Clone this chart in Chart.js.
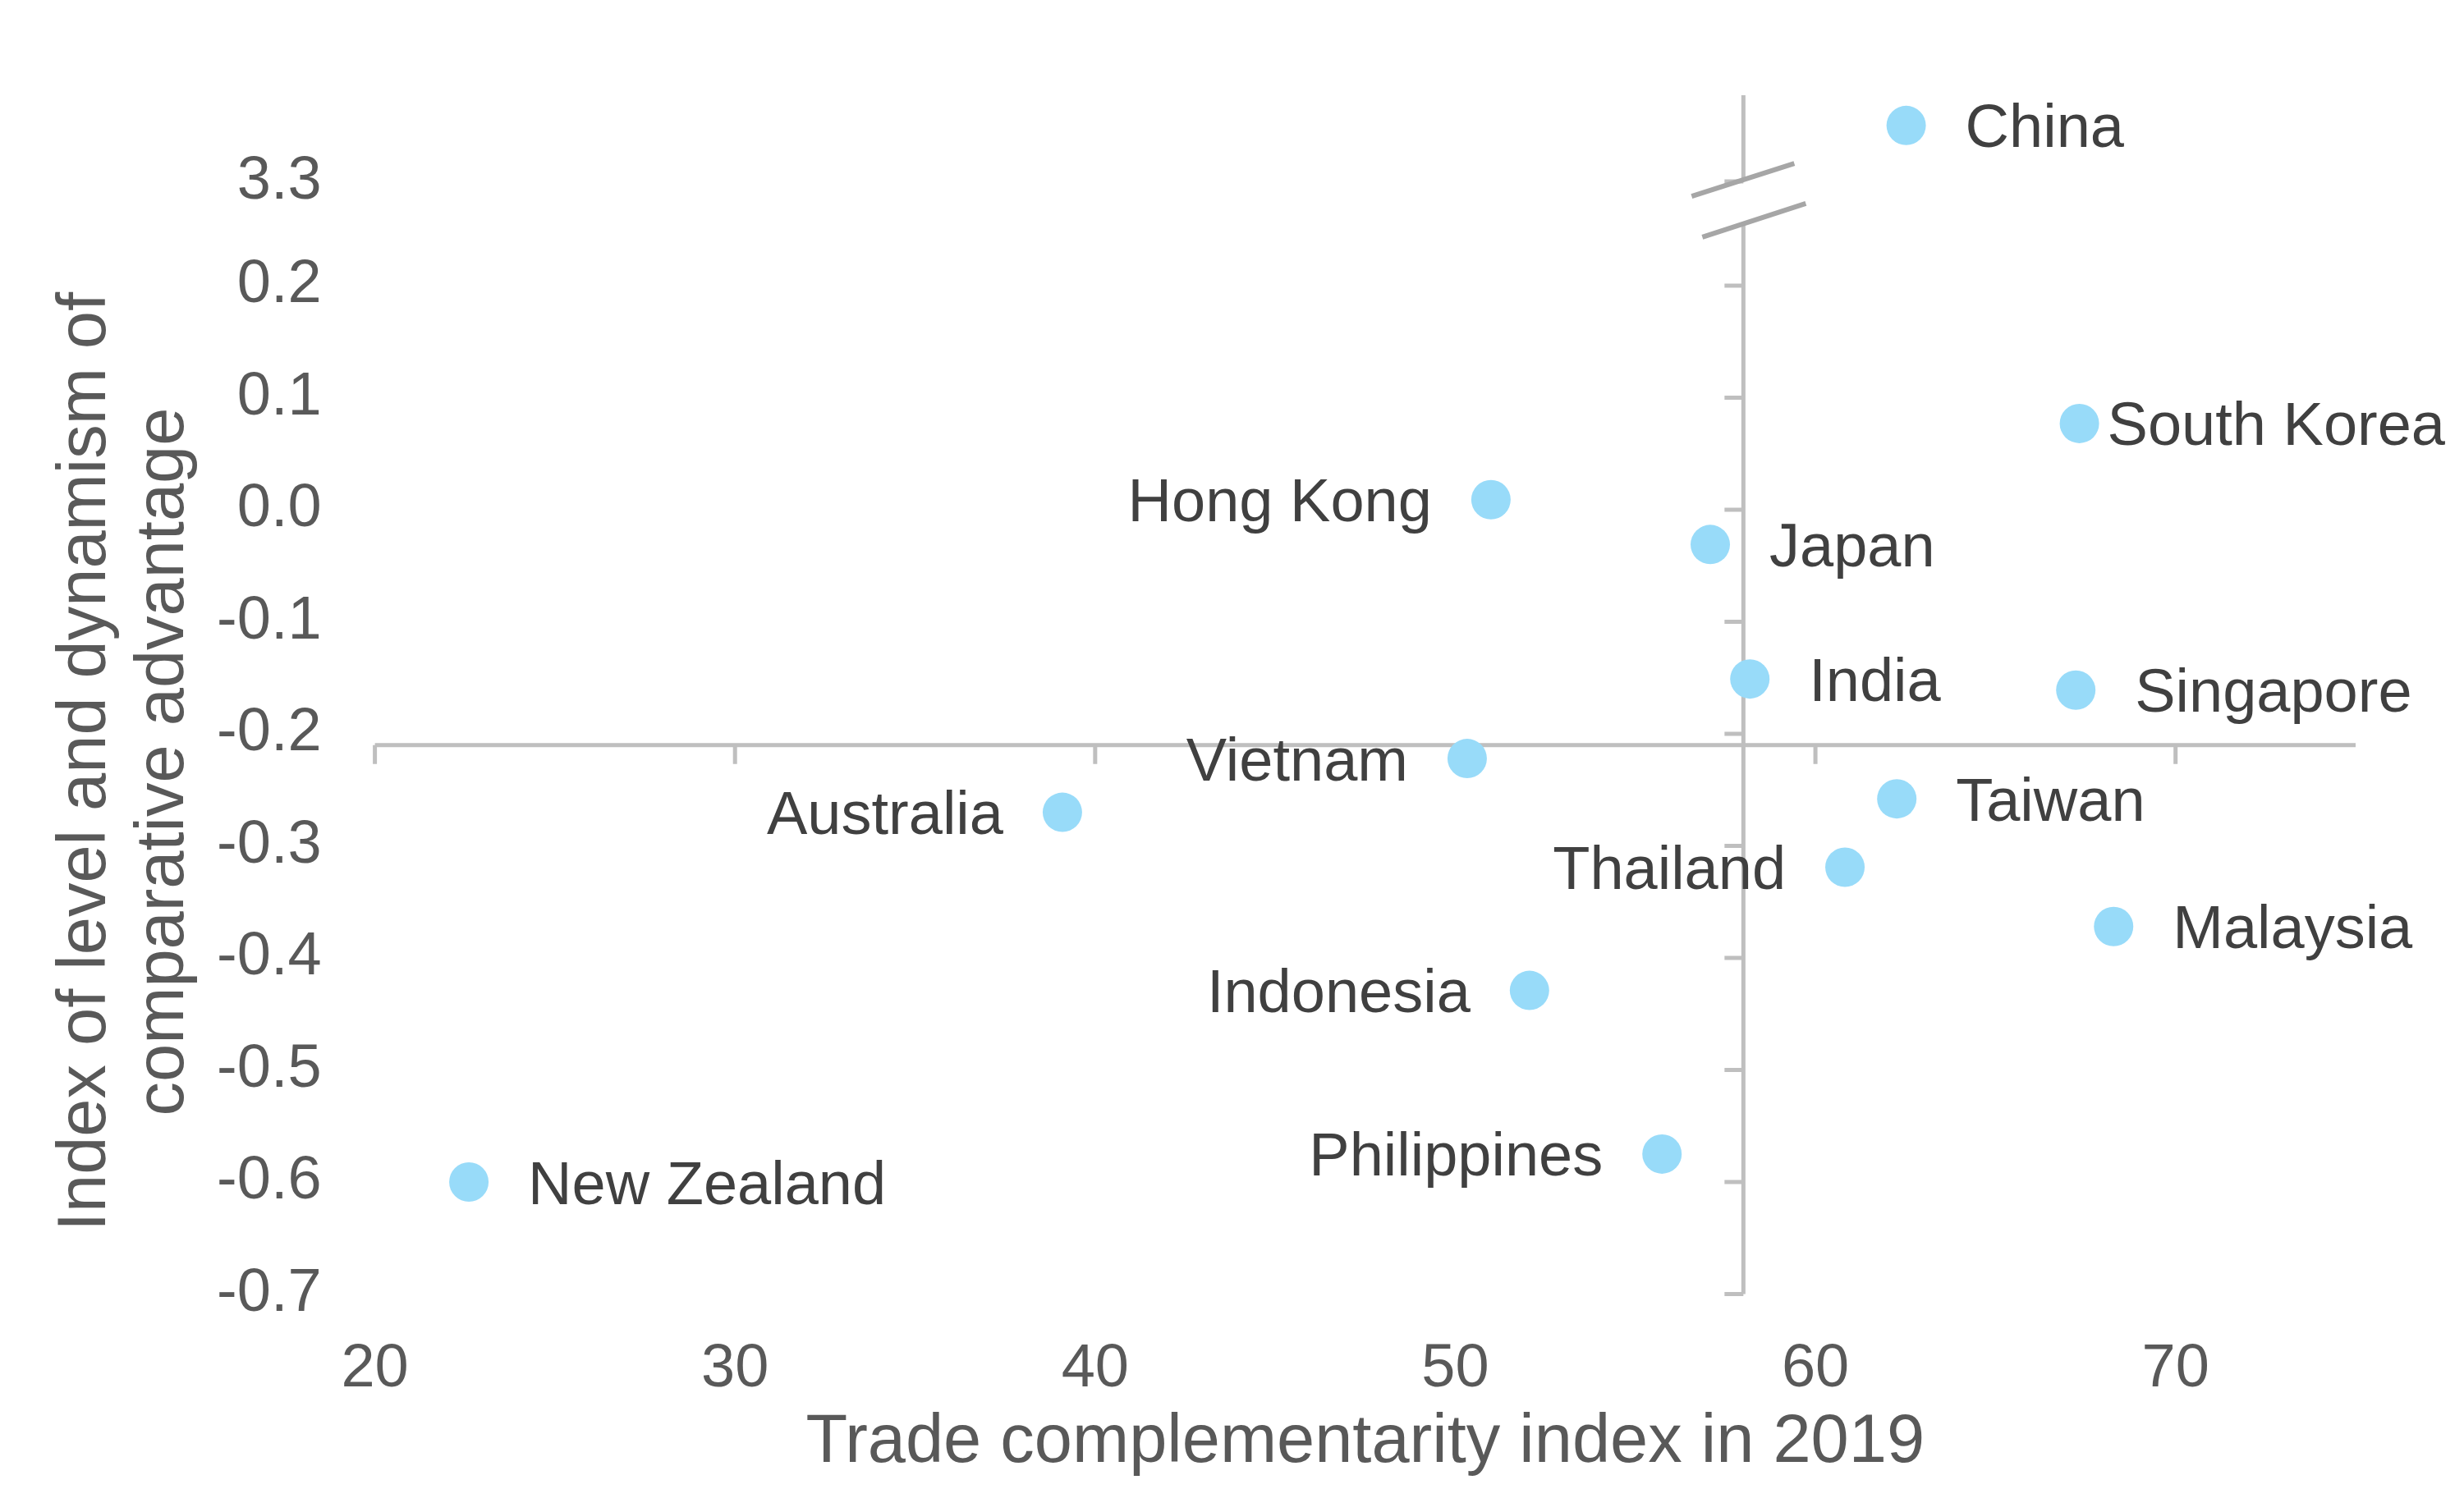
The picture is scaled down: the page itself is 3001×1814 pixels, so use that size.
<!DOCTYPE html>
<html>
<head>
<meta charset="utf-8">
<title>Trade complementarity and comparative advantage</title>
<script src="https://cdn.jsdelivr.net/npm/chart.js@4.4.1/dist/chart.umd.min.js"></script>
<style>
  html, body { margin: 0; padding: 0; background: #fff; }
  canvas { display: block; }
</style>
</head>
<body>
<canvas id="scatter" width="3001" height="1814"></canvas>
<script>
// data
const countries = ['China', 'South Korea', 'Hong Kong', 'Japan', 'India', 'Singapore', 'Vietnam',
                   'Taiwan', 'Australia', 'Thailand', 'Malaysia', 'Indonesia', 'Philippines', 'New Zealand'];
const tradeIndex = [62.52, 67.33, 50.99, 57.08, 58.18, 67.23, 50.33, 62.26, 39.09, 60.82, 68.28, 52.06, 55.74, 22.61];
const advantageIndex = [3.35, 0.077, 0.009, -0.031, -0.151, -0.161, -0.222, -0.258, -0.270, -0.319, -0.372, -0.429, -0.575, -0.600];
const xTicks = [20, 30, 40, 50, 60, 70];
const yTicks = [-0.7, -0.6, -0.5, -0.4, -0.3, -0.2, -0.1, 0, 0.1, 0.2, 3.3];

// y axis is broken between 0.2 and 3.3
const BREAK_SHIFT = 3.007;
function toAxis(v) { return v > 1 ? v - BREAK_SHIFT : v; }

const FONT = '"Liberation Sans", Arial, sans-serif';
const labelsOnLeft = ['Hong Kong', 'Vietnam', 'Australia', 'Thailand', 'Indonesia', 'Philippines'];
const labelGap = { 'South Korea': 34 };

const axesAndLabels = {
  id: 'axesAndLabels',
  beforeDatasetsDraw(chart) {
    const { ctx, chartArea, scales: { x, y } } = chart;
    const ax = x.getPixelForValue(58);
    const ay = y.getPixelForValue(-0.21);
    const breakTop = y.getPixelForValue(0.2945);
    const breakBot = y.getPixelForValue(0.255);
    ctx.save();
    ctx.strokeStyle = '#BFBFBF';
    ctx.lineWidth = 5;
    ctx.beginPath();
    ctx.moveTo(chartArea.left, ay);
    ctx.lineTo(chartArea.right, ay);
    xTicks.forEach(v => {
      const px = x.getPixelForValue(v);
      ctx.moveTo(px, ay);
      ctx.lineTo(px, ay + 23);
    });
    ctx.moveTo(ax, chartArea.top);
    ctx.lineTo(ax, breakTop);
    ctx.moveTo(ax, breakBot);
    ctx.lineTo(ax, chartArea.bottom);
    yTicks.forEach(v => {
      const py = y.getPixelForValue(toAxis(v));
      ctx.moveTo(ax - 23, py);
      ctx.lineTo(ax, py);
    });
    ctx.stroke();

    // break marks
    ctx.strokeStyle = '#A6A6A6';
    ctx.lineWidth = 6;
    ctx.beginPath();
    ctx.moveTo(ax - 63, breakTop + 20);
    ctx.lineTo(ax + 62, breakTop - 20);
    ctx.moveTo(ax - 50, breakBot + 16);
    ctx.lineTo(ax + 76, breakBot - 25);
    ctx.stroke();
    ctx.restore();
  },
  afterDatasetsDraw(chart) {
    const ctx = chart.ctx;
    const meta = chart.getDatasetMeta(0);
    ctx.save();
    ctx.font = '74px ' + FONT;
    ctx.fillStyle = '#404040';
    ctx.textBaseline = 'alphabetic';
    meta.data.forEach((pt, i) => {
      const name = countries[i];
      const gap = labelGap[name] || 72;
      if (labelsOnLeft.includes(name)) {
        ctx.textAlign = 'right';
        ctx.fillText(name, pt.x - gap, pt.y + 26.5);
      } else {
        ctx.textAlign = 'left';
        ctx.fillText(name, pt.x + gap, pt.y + 26.5);
      }
    });

    // y axis title, two lines
    ctx.fillStyle = '#595959';
    ctx.font = '83px ' + FONT;
    ctx.textAlign = 'center';
    [['Index of level and dynamism of', 127.5], ['comparative advantage', 223]].forEach(([text, bx]) => {
      ctx.save();
      ctx.translate(bx, 928);
      ctx.rotate(-Math.PI / 2);
      ctx.fillText(text, 0, 0);
      ctx.restore();
    });
    ctx.restore();
  }
};

const ctx = document.getElementById('scatter').getContext('2d');
const myChart = new Chart(ctx, {
  type: 'scatter',
  data: {
    datasets: [{
      label: 'Countries',
      data: countries.map((c, i) => ({ x: tradeIndex[i], y: toAxis(advantageIndex[i]) })),
      backgroundColor: '#98DBF9',
      borderWidth: 0,
      pointRadius: 24,
      pointHoverRadius: 24
    }]
  },
  options: {
    responsive: false,
    animation: false,
    devicePixelRatio: 1,
    layout: { padding: { top: 116, right: 132, left: 0, bottom: 0 } },
    plugins: {
      legend: { display: false },
      tooltip: { enabled: false }
    },
    scales: {
      x: {
        type: 'linear',
        min: 20,
        max: 75,
        border: { display: false },
        grid: { display: false, drawTicks: false },
        afterBuildTicks: s => { s.ticks = xTicks.map(v => ({ value: v })); },
        afterFit: s => { s.height = 237.5; },
        ticks: {
          color: '#595959',
          font: { family: FONT, size: 74, lineHeight: 1.2 },
          padding: 48,
          maxRotation: 0,
          autoSkip: false
        },
        title: {
          display: true,
          text: 'Trade complementarity index in 2019',
          color: '#595959',
          font: { family: FONT, size: 83, lineHeight: 1.15 },
          padding: { top: 0, bottom: 8 }
        }
      },
      y: {
        type: 'linear',
        min: -0.7,
        max: 0.37,
        border: { display: false },
        grid: { display: false, drawTicks: false },
        afterBuildTicks: s => { s.ticks = yTicks.map(v => ({ value: toAxis(v) })); },
        afterFit: s => { s.width = 456.6; },
        ticks: {
          color: '#595959',
          font: { family: FONT, size: 74, lineHeight: 1.2 },
          padding: 65,
          autoSkip: false,
          callback: v => (v > 0.25 ? v + BREAK_SHIFT : v).toFixed(1)
        }
      }
    }
  },
  plugins: [axesAndLabels]
});
</script>
</body>
</html>
